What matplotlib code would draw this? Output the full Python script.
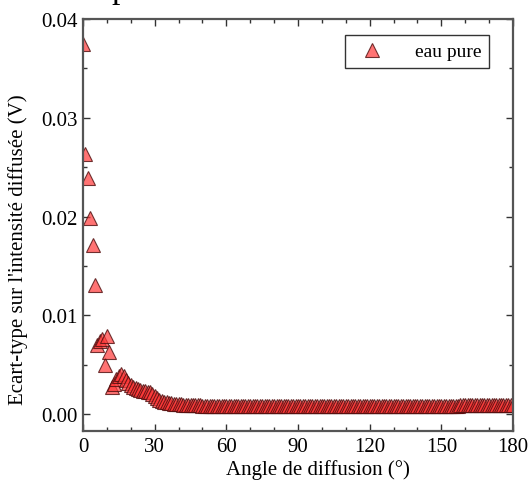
import matplotlib
matplotlib.use("Agg")
import matplotlib.pyplot as plt
from matplotlib.ticker import MultipleLocator, FormatStrFormatter

plt.rcParams['font.family'] = ['Liberation Serif', 'DejaVu Serif']
plt.rcParams['mathtext.fontset'] = 'stix'

# Scattering angle (degrees), 1 degree steps
angles = list(range(0, 181))

# Standard deviation of scattered intensity (V)
sigma_head = [
    0.0375, 0.0263, 0.0239, 0.0198, 0.0171, 0.0131, 0.0070, 0.0074, 0.0076, 0.0050,
    0.0079, 0.0063, 0.0027, 0.0030, 0.0035, 0.0038, 0.0041, 0.0038, 0.0034, 0.0031,
    0.0029, 0.0027, 0.0026, 0.0025, 0.0024, 0.0023, 0.0023, 0.0022, 0.0022, 0.0020,
    0.0018, 0.0016, 0.0014, 0.0013, 0.0012, 0.0012, 0.0011, 0.0011, 0.0010, 0.0010,
    0.0010, 0.0010, 0.0009, 0.0009, 0.0009, 0.0009, 0.0009, 0.0009, 0.0009, 0.0009,
]
sigma_tail = [
    0.0008, 0.0008, 0.0008, 0.0008, 0.0008, 0.0008, 0.0008, 0.0008, 0.0008, 0.0008,
    0.0008, 0.0008, 0.0008, 0.0008, 0.0008, 0.0008, 0.0008, 0.0008, 0.0008, 0.0008,
    0.0008, 0.0008, 0.0008, 0.0008, 0.0008, 0.0008, 0.0008, 0.0008, 0.0008, 0.0008,
    0.0008, 0.0008, 0.0008, 0.0008, 0.0008, 0.0008, 0.0008, 0.0008, 0.0008, 0.0008,
    0.0008, 0.0008, 0.0008, 0.0008, 0.0008, 0.0008, 0.0008, 0.0008, 0.0008, 0.0008,
    0.0008, 0.0008, 0.0008, 0.0008, 0.0008, 0.0008, 0.0008, 0.0008, 0.0008, 0.0008,
    0.0008, 0.0008, 0.0008, 0.0008, 0.0008, 0.0008, 0.0008, 0.0008, 0.0008, 0.0008,
    0.0008, 0.0008, 0.0008, 0.0008, 0.0008, 0.0008, 0.0008, 0.0008, 0.0008, 0.0008,
    0.0008, 0.0008, 0.0008, 0.0008, 0.0008, 0.0008, 0.0008, 0.0008, 0.0008, 0.0008,
    0.0008, 0.0008, 0.0008, 0.0008, 0.0008, 0.0008, 0.0008, 0.0008, 0.0008, 0.0008,
    0.0008, 0.0008, 0.0008, 0.0008, 0.0008, 0.0008, 0.0008, 0.0008, 0.0009, 0.0009,
    0.0009, 0.0009, 0.0009, 0.0009, 0.0009, 0.0009, 0.0009, 0.0009, 0.0009, 0.0009,
    0.0009, 0.0009, 0.0009, 0.0009, 0.0009, 0.0009, 0.0009, 0.0009, 0.0009, 0.0009,
    0.0009,
]
sigma = sigma_head + sigma_tail

series_label = "eau pure"
x_label = "Angle de diffusion (°)"
y_label = "Ecart-type sur l'intensité diffusée (V)"
x_ticks = [0, 30, 60, 90, 120, 150, 180]
y_ticks = [0.00, 0.01, 0.02, 0.03, 0.04]

fig = plt.figure(figsize=(5.31, 4.85), dpi=100)
ax = fig.add_axes([83/531, 1-432/485, 430/531, 412/485])

ax.plot(angles, sigma, linestyle='none', marker='^', markersize=10,
        markerfacecolor=(1.0, 0.22, 0.22, 0.7), markeredgecolor=(0.3, 0.05, 0.05, 0.8),
        markeredgewidth=0.8, label=series_label, clip_on=True)

ax.set_xlim(0, 180)
ax.set_ylim(-0.00172, 0.04)
ax.set_xticks(x_ticks)
ax.set_yticks(y_ticks)
ax.xaxis.set_minor_locator(MultipleLocator(10))
ax.yaxis.set_minor_locator(MultipleLocator(0.005))
ax.yaxis.set_major_formatter(FormatStrFormatter('%.2f'))

for s in ax.spines.values():
    s.set_color('#555555')
    s.set_linewidth(1.6)
ax.tick_params(which='both', direction='in', top=True, right=True,
               color='#333333', labelsize=15, labelcolor='black')
ax.tick_params(which='major', length=5, width=1)
ax.tick_params(which='minor', length=3, width=1)
ax.tick_params(axis='x', pad=4)
ax.tick_params(axis='y', pad=4)

ax.set_xlabel(x_label, fontsize=15, labelpad=5)
ax.xaxis.set_label_coords((318 - 83)/430, -(470 - 432)/412)
ax.xaxis.label.set_va('center')
ax.set_ylabel(y_label, fontsize=15)
ax.yaxis.set_label_coords(-(83 - 18)/430, (432 - 250)/412)
ax.yaxis.label.set_va('center')

leg = ax.legend(loc='upper right', bbox_to_anchor=((489 - 83)/430, 1 - 16/412),
                borderaxespad=0.0,
                frameon=True, fancybox=False, edgecolor='black', fontsize=14,
                handletextpad=1.2, borderpad=0.4, handlelength=2)
leg.get_frame().set_linewidth(1.0)

fig.text(120/531, 1.0 + 2/485, "p", fontsize=24, ha='center', va='baseline')

fig.savefig("out.png", dpi=100)
